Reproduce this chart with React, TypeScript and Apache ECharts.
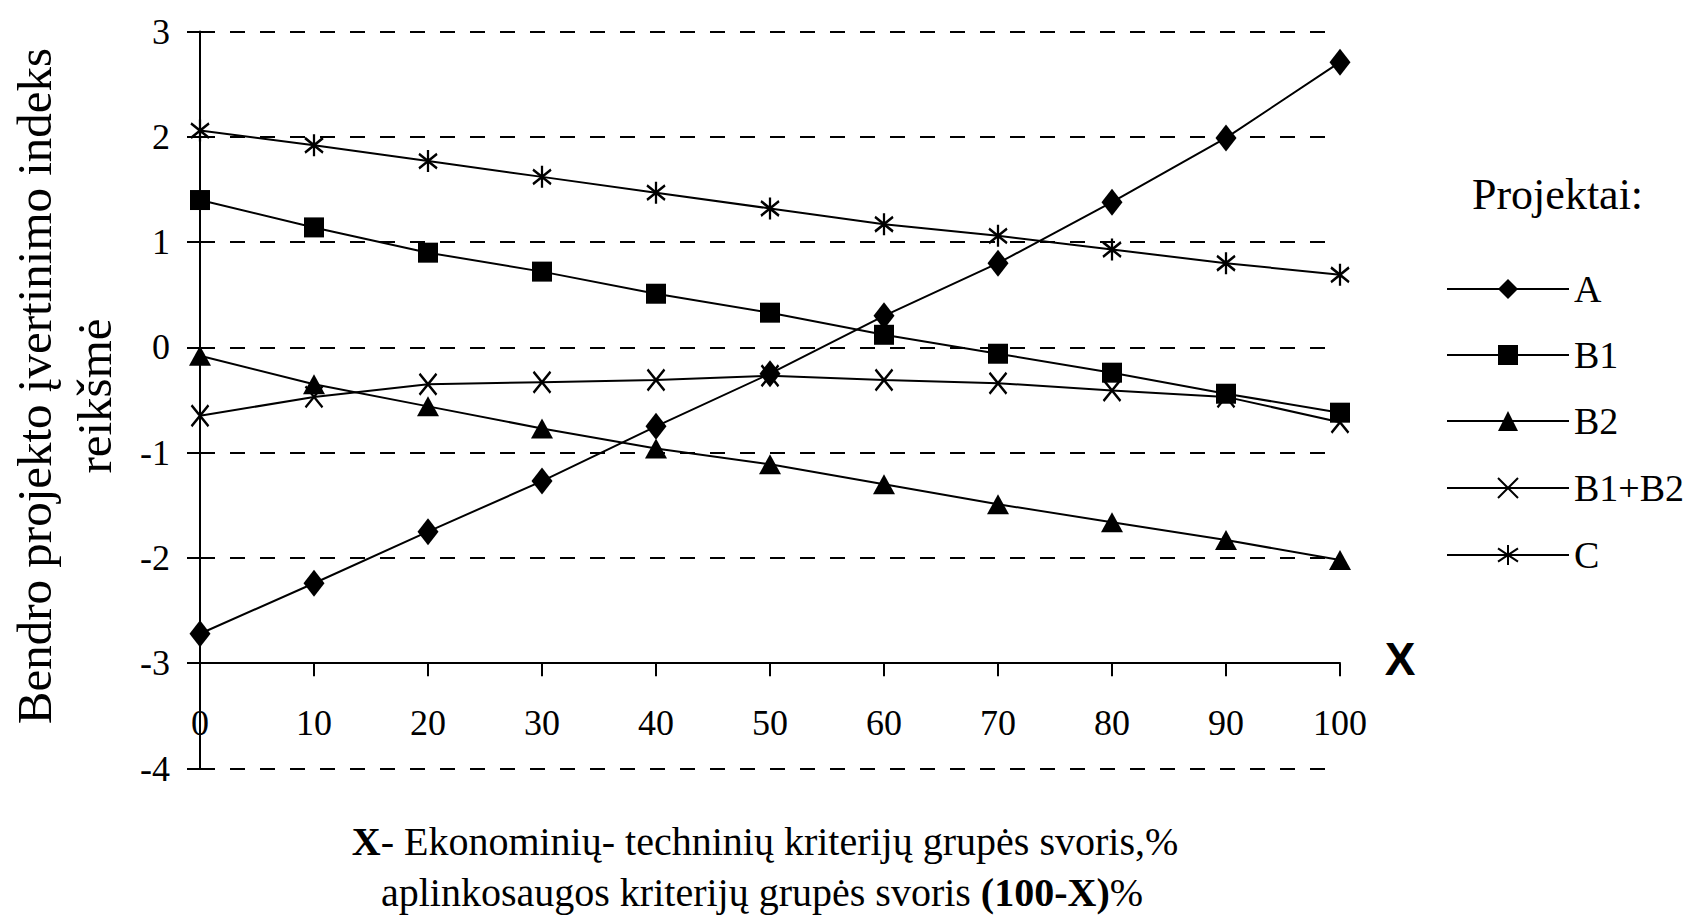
import React, { useEffect, useRef } from "react";
import * as echarts from "echarts";

const xValues = [0, 10, 20, 30, 40, 50, 60, 70, 80, 90, 100];
const seriesNames = ["A", "B1", "B2", "B1+B2", "C"];
const valuesA = [-2.72, -2.24, -1.75, -1.27, -0.75, -0.25, 0.3, 0.8, 1.38, 1.99, 2.71];
const valuesB1 = [1.4, 1.14, 0.9, 0.72, 0.51, 0.33, 0.12, -0.06, -0.24, -0.44, -0.62];
const valuesB2 = [-0.08, -0.35, -0.56, -0.77, -0.96, -1.11, -1.3, -1.49, -1.66, -1.83, -2.02];
const valuesB1B2 = [-0.65, -0.47, -0.35, -0.33, -0.31, -0.27, -0.31, -0.34, -0.41, -0.47, -0.71];
const valuesC = [2.06, 1.92, 1.77, 1.62, 1.47, 1.32, 1.17, 1.06, 0.93, 0.8, 0.69];

const yTitleLine1 = "Bendro projekto įvertinimo indeks";
const yTitleLine2 = "reikšmė";
const xTitleLine1 = "{b|X}- Ekonominių- techninių kriterijų grupės svoris,%";
const xTitleLine2 = "aplinkosaugos kriterijų grupės svoris {b|(100-X)}%";
const legendTitle = "Projektai:";

const FONT = "'Liberation Serif', 'Times New Roman', serif";
const XMARK = "path://M0 0L10 13M10 0L0 13";
const STAR = "path://M5 0L5 13M0.6 2.2L9.4 10.8M0.6 10.8L9.4 2.2";

export default function App() {
  const ref = useRef<HTMLDivElement>(null);

  useEffect(() => {
    if (!ref.current) return;
    const chart = echarts.init(ref.current, undefined, { renderer: "svg" });

    const allValues = [valuesA, valuesB1, valuesB2, valuesB1B2, valuesC];
    const symbols: any[] = ["diamond", "rect", "triangle", XMARK, STAR];
    const sizes: any[] = [[21, 27], 20, [22, 20], [17, 21], [18, 22]];
    const stroked = [false, false, false, true, true];

    const series = seriesNames.map((name, i) => ({
      name,
      type: "line",
      xAxisIndex: 0,
      yAxisIndex: 0,
      data: xValues.map((x, j) => [x, allValues[i][j]]),
      symbol: symbols[i],
      symbolSize: sizes[i],
      showSymbol: true,
      lineStyle: { color: "#000", width: 2 },
      itemStyle: stroked[i]
        ? { color: "#000", borderColor: "#000", borderWidth: 2.5 }
        : { color: "#000", borderWidth: 0 },
      z: 3 + i,
    }));

    const legendY = [289, 355, 421, 488, 555];
    const legends = seriesNames.map((name, i) => ({
      show: true,
      data: [name],
      left: 1446,
      top: legendY[i] - 19,
      orient: "vertical",
      itemWidth: 122,
      itemHeight: 25,
      padding: 0,
      selectedMode: false,
      textStyle: { fontSize: 38, fontFamily: FONT, color: "#000", lineHeight: 38, padding: [0, 0, 0, 0] },
    }));

    chart.setOption({
      animation: false,
      backgroundColor: "#fff",
      grid: [
        { left: 200, top: 31.6, width: 1140, height: 736.9 },
        { left: 200, top: 31.6, width: 1140, height: 631.6 },
      ],
      xAxis: [
        { gridIndex: 0, type: "value", min: 0, max: 100, show: false },
        {
          gridIndex: 1,
          type: "value",
          min: 0,
          max: 100,
          interval: 10,
          axisLine: { show: true, onZero: false, lineStyle: { color: "#000", width: 2 } },
          axisTick: { show: true, length: 13, lineStyle: { color: "#000", width: 2 } },
          axisLabel: { margin: 42, fontSize: 36, fontFamily: FONT, color: "#000" },
          splitLine: { show: false },
        },
      ],
      yAxis: [
        {
          gridIndex: 0,
          type: "value",
          min: -4,
          max: 3,
          interval: 1,
          axisLine: { show: true, onZero: false, lineStyle: { color: "#000", width: 2 } },
          axisTick: { show: true, length: 13, lineStyle: { color: "#000", width: 2 } },
          axisLabel: { margin: 30, fontSize: 36, fontFamily: FONT, color: "#000" },
          splitLine: { show: true, lineStyle: { color: "#000", width: 2, type: [15, 15] } },
        },
        { gridIndex: 1, type: "value", min: 0, max: 1, show: false },
      ],
      legend: legends,
      series,
      graphic: [
        {
          type: "text",
          x: 34,
          y: 386,
          rotation: Math.PI / 2,
          style: {
            text: yTitleLine1,
            fontSize: 49,
            fontFamily: FONT,
            fill: "#000",
            textAlign: "center",
            textVerticalAlign: "middle",
          },
        },
        {
          type: "text",
          x: 94,
          y: 396,
          rotation: Math.PI / 2,
          style: {
            text: yTitleLine2,
            fontSize: 49,
            fontFamily: FONT,
            fill: "#000",
            textAlign: "center",
            textVerticalAlign: "middle",
          },
        },
        {
          type: "text",
          x: 1472,
          y: 194,
          style: {
            text: legendTitle,
            fontSize: 44,
            fontFamily: FONT,
            fill: "#000",
            textAlign: "left",
            textVerticalAlign: "middle",
          },
        },
        {
          type: "text",
          x: 1400,
          y: 659,
          style: {
            text: "X",
            fontSize: 46,
            fontWeight: "bold",
            fontFamily: "'Liberation Sans', Arial, sans-serif",
            fill: "#000",
            textAlign: "center",
            textVerticalAlign: "middle",
          },
        },
        {
          type: "text",
          x: 765,
          y: 841,
          style: {
            text: xTitleLine1,
            fontSize: 40,
            fontFamily: FONT,
            fill: "#000",
            textAlign: "center",
            textVerticalAlign: "middle",
            rich: { b: { fontSize: 40, fontFamily: FONT, fontWeight: "bold", fill: "#000" } },
          },
        },
        {
          type: "text",
          x: 762,
          y: 892,
          style: {
            text: xTitleLine2,
            fontSize: 40,
            fontFamily: FONT,
            fill: "#000",
            textAlign: "center",
            textVerticalAlign: "middle",
            rich: { b: { fontSize: 40, fontFamily: FONT, fontWeight: "bold", fill: "#000" } },
          },
        },
      ],
    });

    return () => chart.dispose();
  }, []);

  return (
    <div
      ref={ref}
      style={{ position: "fixed", left: 0, top: 0, width: 1707, height: 918 }}
    />
  );
}
